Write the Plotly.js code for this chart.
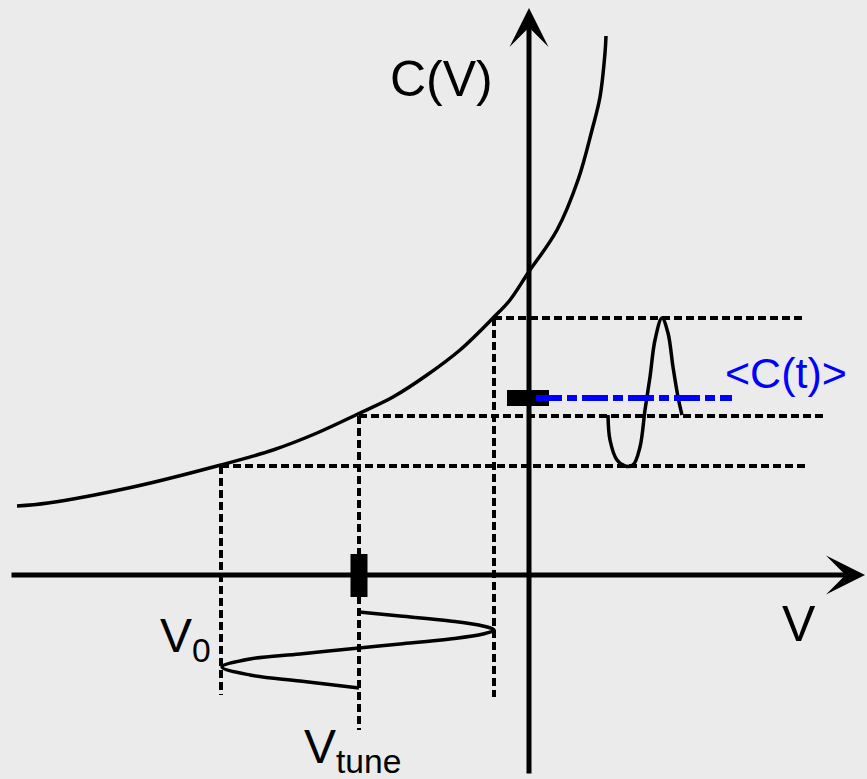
<!DOCTYPE html>
<html>
<head>
<meta charset="utf-8">
<script src="https://cdn.plot.ly/plotly-3.0.1.min.js"></script>
<style>
html, body { margin: 0; padding: 0; background: #ebebeb; }
#chart { width: 867px; height: 779px; }
</style>
</head>
<body>
<div id="chart"></div>
<script>
'use strict';

// C(V) characteristic (V horizontal, C vertical)
var curveV = [-5.12, -4.81, -3.96, -3.12, -2.56, -2.12, -1.69, -1.36, -1.02,
              -0.69, -0.36, -0.19, -0.01, 0.28, 0.49, 0.63, 0.71, 0.76, 0.77];
var curveC = [0.69, 0.72, 0.88, 1.09, 1.25, 1.42, 1.62, 1.78, 2.00,
              2.25, 2.57, 2.75, 3.02, 3.45, 3.95, 4.45, 4.78, 5.22, 5.39];

// operating points
var V0 = -3.08, Vtune = -1.70, Vmax = -0.35;
var C0 = 1.09, Ctune = 1.59, Cmax = 2.57;
var Cmean = 1.77;

// voltage swing round Vtune, drawn under the V axis (time runs downwards)
var swingT = [-0.37, -0.41, -0.46, -0.51, -0.55, -0.59, -0.64, -0.69, -0.73,
              -0.79, -0.84, -0.92, -1.00, -1.06, -1.13];
var swingV = [-1.70, -1.29, -0.79, -0.46, -0.35, -0.46, -0.79, -1.29, -1.70,
              -2.29, -2.79, -3.07, -2.79, -2.29, -1.70];

// resulting capacitance swing, right of the C axis (time runs to the right)
var capT = [0.79, 0.81, 0.88, 0.96, 1.04, 1.11, 1.16, 1.21, 1.26, 1.33, 1.39, 1.44, 1.49, 1.53];
var capC = [1.60, 1.35, 1.15, 1.09, 1.10, 1.28, 1.65, 1.98, 2.35, 2.57, 2.42, 2.08, 1.78, 1.60];

// labels
var labelCV = 'C(V)';
var labelV = 'V';
var labelV0 = 'V<sub>0</sub>';
var labelVtune = 'V<sub>tune</sub>';
var labelMean = '&lt;C(t)&gt;';

// extents of the axes and guide lines
var xAxisEnds = [-5.19, 3.36];
var yAxisEnds = [-2.00, 5.67];
var guideRight = {top: 2.76, mid: 2.97, low: 2.77};
var guideDown = {v0: -1.20, tune: -1.55, max: -1.22};
var meanLine = [0.07, 2.03];

var font = 'Liberation Sans, Arial, Helvetica, sans-serif';

function dashed(xs, ys) {
    return {
        x: xs, y: ys, mode: 'lines', hoverinfo: 'skip',
        line: {color: 'black', width: 4, dash: '8px,4px'}
    };
}

var data = [
    // guide lines
    dashed([Vmax, guideRight.top], [Cmax, Cmax]),
    dashed([Vtune, guideRight.mid], [Ctune, Ctune]),
    dashed([V0, guideRight.low], [C0, C0]),
    dashed([V0, V0], [C0, guideDown.v0]),
    dashed([Vtune, Vtune], [Ctune, guideDown.tune]),
    dashed([Vmax, Vmax], [Cmax, guideDown.max]),

    // C(V)
    {
        x: curveV, y: curveC, mode: 'lines', hoverinfo: 'skip',
        line: {color: 'black', width: 3.5, shape: 'spline', smoothing: 1}
    },

    // V(t) swing
    {
        x: swingV, y: swingT, mode: 'lines', hoverinfo: 'skip',
        line: {color: 'black', width: 3.5, shape: 'spline', smoothing: 1}
    },

    // C(t) swing
    {
        x: capT, y: capC, mode: 'lines', hoverinfo: 'skip',
        line: {color: 'black', width: 3.5, shape: 'spline', smoothing: 1}
    },

    // tick blocks on the axes
    {
        x: [Vtune, Vtune], y: [-0.22, 0.21], mode: 'lines', hoverinfo: 'skip',
        line: {color: 'black', width: 17}
    },
    {
        x: [-0.22, 0.20], y: [Cmean, Cmean], mode: 'lines', hoverinfo: 'skip',
        line: {color: 'black', width: 16}
    },

    // mean capacitance
    {
        x: meanLine, y: [Cmean, Cmean], mode: 'lines', hoverinfo: 'skip',
        line: {color: '#0000ff', width: 6, dash: '26px,5px,10px,5px'}
    }
];

function axisArrow(x, y, ax, ay) {
    return {
        x: x, y: y, ax: ax, ay: ay,
        xref: 'x', yref: 'y', axref: 'x', ayref: 'y',
        text: '', showarrow: true,
        arrowhead: 3, arrowsize: 1.3, arrowwidth: 5, arrowcolor: 'black'
    };
}

function label(text, x, y, size, anchor, color) {
    return {
        x: x, y: y, xref: 'x', yref: 'y', text: text, showarrow: false,
        xanchor: anchor, yanchor: 'middle',
        font: {family: font, size: size, color: color || 'black'}
    };
}

var layout = {
    width: 867,
    height: 779,
    margin: {l: 0, r: 0, t: 0, b: 0},
    paper_bgcolor: '#ebebeb',
    plot_bgcolor: '#ebebeb',
    showlegend: false,
    xaxis: {range: [-5.29, 3.38], visible: false, fixedrange: true},
    yaxis: {range: [-2.04, 5.75], visible: false, fixedrange: true},
    annotations: [
        axisArrow(xAxisEnds[1], 0, xAxisEnds[0], 0),
        axisArrow(0, yAxisEnds[1], 0, yAxisEnds[0]),
        label(labelCV, -0.875, 4.965, 50, 'center'),
        label(labelV, 2.70, -0.485, 50, 'center'),
        label(labelV0, -3.71, -0.64, 48, 'left'),
        label(labelVtune, -2.27, -1.75, 48, 'left'),
        label(labelMean, 2.565, 2.025, 43, 'center', '#0000ff')
    ]
};

Plotly.newPlot('chart', data, layout, {displayModeBar: false, staticPlot: true});
</script>
</body>
</html>
